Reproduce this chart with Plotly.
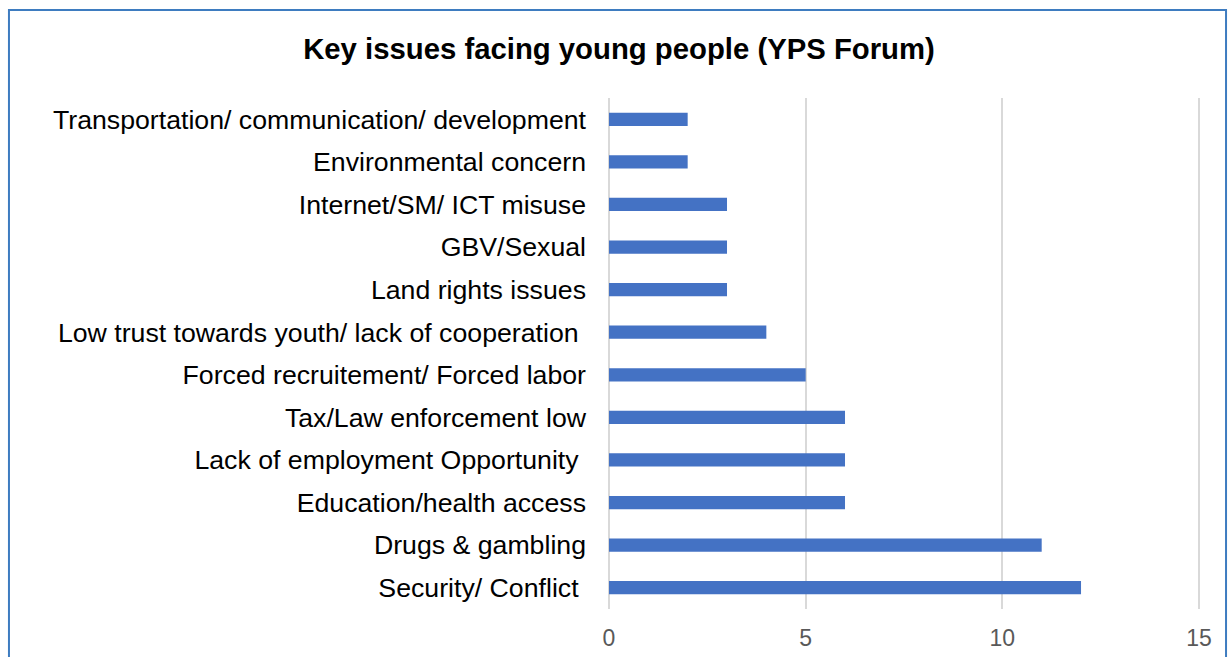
import plotly.graph_objects as go

categories = [
    "Transportation/ communication/ development",
    "Environmental concern",
    "Internet/SM/ ICT misuse",
    "GBV/Sexual",
    "Land rights issues",
    "Low trust towards youth/ lack of cooperation ",
    "Forced recruitement/ Forced labor",
    "Tax/Law enforcement low",
    "Lack of employment Opportunity ",
    "Education/health access",
    "Drugs & gambling",
    "Security/ Conflict ",
]
values = [2, 2, 3, 3, 3, 4, 5, 6, 6, 6, 11, 12]
x_ticks = [0, 5, 10, 15]

title_text = "Key issues facing young people (YPS Forum)"

W, H = 1228, 657
X_MAX = 15.05
L, T, B = 609, 98, 48
pw = 590 * X_MAX / 15
R = W - L - pw
ph = H - T - B

def px_x(p):
    return (p - L) / pw

def px_y(p):
    return (H - B - p) / ph

fig = go.Figure(
    go.Bar(
        x=values,
        y=categories,
        orientation="h",
        marker=dict(color="#4472C4", line=dict(width=0)),
        width=0.31,
    )
)

fig.update_layout(
    width=W,
    height=H,
    margin=dict(l=L, r=R, t=T, b=B, autoexpand=False),
    paper_bgcolor="white",
    plot_bgcolor="white",
    showlegend=False,
    font=dict(family="Arial, Liberation Sans, sans-serif", color="#000000"),
    title=dict(
        text="<b>" + title_text + "</b>",
        x=px_x(619),
        xref="paper",
        xanchor="center",
        y=1 - 49 / H,
        yref="container",
        yanchor="middle",
        font=dict(size=29.3, color="#000000", family="Arial, Liberation Sans, sans-serif"),
    ),
    shapes=[
        dict(
            type="rect",
            xref="paper",
            yref="paper",
            x0=px_x(9),
            x1=px_x(1226),
            y0=px_y(680),
            y1=px_y(10),
            line=dict(color="#3E7CC0", width=2),
            fillcolor="rgba(0,0,0,0)",
            layer="above",
        )
    ],
)

fig.update_xaxes(
    range=[0, X_MAX],
    tickvals=x_ticks,
    showgrid=True,
    gridcolor="#D9D9D9",
    gridwidth=1.5,
    zeroline=True,
    zerolinecolor="#D9D9D9",
    zerolinewidth=1.5,
    showline=False,
    ticks="",
    ticklabelstandoff=13,
    tickfont=dict(size=23, color="#595959"),
    automargin=False,
    fixedrange=True,
)

fig.update_yaxes(
    type="category",
    autorange="reversed",
    showgrid=False,
    zeroline=False,
    showline=False,
    ticks="",
    ticklabelstandoff=22,
    tickfont=dict(size=26.7, color="#000000"),
    automargin=False,
    fixedrange=True,
)

fig.write_html(
    "out.html",
    config={"displayModeBar": False},
    post_script="document.body.style.margin='0';document.body.style.overflow='hidden';",
)
